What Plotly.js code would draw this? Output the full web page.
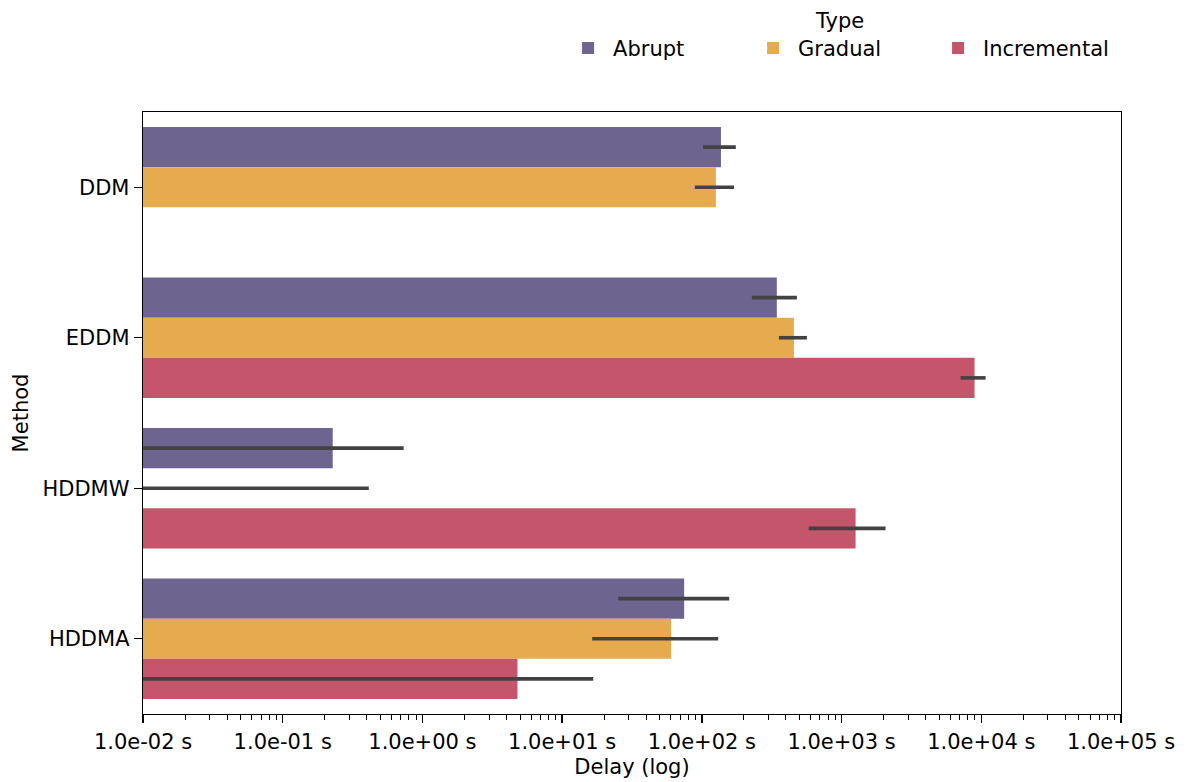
<!DOCTYPE html>
<html>
<head>
<meta charset="utf-8">
<script src="https://cdn.plot.ly/plotly-3.0.1.min.js"></script>
<style>html,body{margin:0;padding:0;background:#fff;}#chart{width:1186px;height:782px;}</style>
</head>
<body>
<div id="chart"></div>
<script>
// ---- data ----
const methods = ['DDM', 'EDDM', 'HDDMW', 'HDDMA'];
const types = ['Abrupt', 'Gradual', 'Incremental'];
const abrupt      = [137, 344, 0.228, 74.7];
const abruptLo    = [102, 228, 0, 25.2];
const abruptHi    = [175, 479, 0.734, 157];
const gradual     = [126, 456, 0, 60.3];
const gradualLo   = [89, 356, 0, 16.4];
const gradualHi   = [170, 565, 0.413, 131];
const incremental = [null, 8950, 1260, 4.79];
const incrLo      = [null, 7110, 581, 0];
const incrHi      = [null, 10740, 2065, 16.7];
const tickVals = [1e-2, 1e-1, 1e0, 1e1, 1e2, 1e3, 1e4, 1e5];
const tickText = ['1.0e-02 s', '1.0e-01 s', '1.0e+00 s', '1.0e+01 s', '1.0e+02 s', '1.0e+03 s', '1.0e+04 s', '1.0e+05 s'];

// ---- styling ----
const colors = ['#6e6490', '#e5ab4e', '#c4556b'];
const errColor = '#424242';
const FONT = 'DejaVu Sans, sans-serif';
const FS = 21;

const series = [
  {name: types[0], v: abrupt, lo: abruptLo, hi: abruptHi},
  {name: types[1], v: gradual, lo: gradualLo, hi: gradualHi},
  {name: types[2], v: incremental, lo: incrLo, hi: incrHi}
];

const bargap = 0.2;
const nT = series.length;
const barW = (1 - bargap) / nT;
const idx = methods.map((m, i) => i);
const xMinClip = 1e-3; // lower CI of 0 goes off the left edge on a log axis

const traces = [];
series.forEach((s, k) => {
  traces.push({
    type: 'bar', orientation: 'h', name: s.name,
    x: s.v, y: idx,
    marker: {color: colors[k], line: {width: 0}},
    hoverinfo: 'x+name'
  });
});
series.forEach((s, k) => {
  const off = (k - (nT - 1) / 2) * barW;
  const ex = [], ey = [];
  idx.forEach(i => {
    if (s.lo[i] === null || s.hi[i] === null) return;
    ex.push(Math.max(s.lo[i], xMinClip), s.hi[i], null);
    ey.push(i + off, i + off, null);
  });
  traces.push({
    type: 'scatter', mode: 'lines', x: ex, y: ey,
    line: {color: errColor, width: 3.6}, showlegend: false, hoverinfo: 'skip'
  });
});

// minor ticks 2..9 per decade
const minorVals = [];
for (let d = -2; d < 5; d++) for (let m = 2; m <= 9; m++) minorVals.push(m * Math.pow(10, d));

const layout = {
  width: 1186, height: 782,
  margin: {l: 143, r: 65, t: 112, b: 68, autoexpand: false},
  paper_bgcolor: '#fff', plot_bgcolor: '#fff',
  font: {family: FONT, size: FS, color: '#000'},
  barmode: 'group', bargap: bargap, bargroupgap: 0,
  showlegend: true,
  legend: {
    orientation: 'h', x: 0.997, xanchor: 'right', y: 1.185, yanchor: 'top',
    font: {family: FONT, size: FS, color: '#000'},
    title: {text: 'Type', side: 'top center', font: {family: FONT, size: FS}},
    itemwidth: 40, entrywidth: 130, traceorder: 'normal', bgcolor: 'rgba(0,0,0,0)'
  },
  xaxis: {
    type: 'log', range: [-2, 5],
    tickmode: 'array', tickvals: tickVals, ticktext: tickText,
    ticks: 'outside', ticklen: 8, tickwidth: 1.3, tickcolor: '#000',
    minor: {tickmode: 'array', tickvals: minorVals, ticks: 'outside', ticklen: 4.5, tickwidth: 1, tickcolor: '#000', showgrid: false},
    showgrid: false, zeroline: false,
    showline: true, linecolor: '#000', linewidth: 1.3, mirror: true,
    tickfont: {family: FONT, size: FS},
    title: {text: 'Delay (log)', font: {family: FONT, size: FS}, standoff: 6}
  },
  yaxis: {
    range: [3.5, -0.5],
    tickmode: 'array', tickvals: idx, ticktext: methods,
    ticks: 'outside', ticklen: 8, tickwidth: 1.3, tickcolor: '#000',
    showgrid: false, zeroline: false,
    showline: true, linecolor: '#000', linewidth: 1.3, mirror: true,
    tickfont: {family: FONT, size: FS},
    title: {text: 'Method', font: {family: FONT, size: FS}, standoff: 8}
  }
};

Plotly.newPlot('chart', traces, layout, {displayModeBar: false, staticPlot: true});
</script>
</body>
</html>
